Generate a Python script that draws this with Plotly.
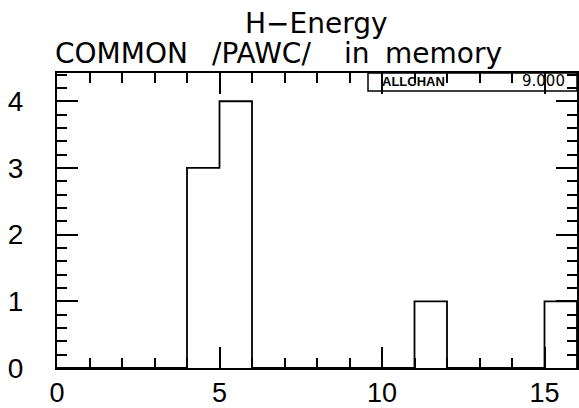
import plotly.graph_objects as go

# ---- data ----
bin_edges = list(range(0, 17))
counts = [0, 0, 0, 0, 3, 4, 0, 0, 0, 0, 0, 1, 0, 0, 0, 1]
x_tick_vals = [0, 5, 10, 15]
x_tick_text = ["0", "5", "10", "15"]
y_tick_vals = [0, 1, 2, 3, 4]
y_tick_text = ["0", "1", "2", "3", "4"]
title_text = "H\u2212Energy"
subtitle_words = ["COMMON", "/PAWC/", "in", "memory"]
stat_label = "ALLCHAN"
stat_value = "9.000"

# ---- layout geometry (pixels) ----
W, H = 579, 408
ML, MR, MT, MB = 57, 2, 73, 40
PW, PH = W - ML - MR, H - MT - MB


def px(x):
    return (x - ML) / PW


def py(y):
    return (H - MB - y) / PH


# step outline of histogram
xs = bin_edges[:-1] + [bin_edges[-1], bin_edges[-1]]
ys = counts + [counts[-1], 0]

fig = go.Figure()
fig.add_trace(go.Scatter(
    x=xs, y=ys, mode="lines", line=dict(shape="hv", color="black", width=1.8),
    hoverinfo="skip", showlegend=False,
))

axis_common = dict(
    showline=True, linecolor="black", linewidth=2, mirror="ticks",
    ticks="inside", tickcolor="black", tickwidth=1.5, ticklen=21,
    showgrid=False, zeroline=False, automargin=False,
)

fig.update_xaxes(
    range=[0, 16], tickvals=x_tick_vals, ticktext=x_tick_text,
    minor=dict(ticks="inside", dtick=1, ticklen=10, tickwidth=1.5,
               tickcolor="black", showgrid=False),
    ticklabelstandoff=0,
    tickfont=dict(family="Liberation Sans", size=27, color="black"),
    **axis_common,
)
fig.update_yaxes(
    range=[0, 4.424], tickvals=y_tick_vals, ticktext=y_tick_text,
    minor=dict(ticks="inside", dtick=0.2, ticklen=10, tickwidth=1.5,
               tickcolor="black", showgrid=False),
    ticklabelstandoff=26,
    tickfont=dict(family="Liberation Sans", size=28, color="black"),
    **axis_common,
)

annotations = [
    dict(text=title_text, x=px(316), y=py(23), xref="paper", yref="paper",
         xanchor="center", yanchor="middle", showarrow=False,
         font=dict(family="DejaVu Sans", size=28, color="black")),
]
word_centers = [121.7, 261, 356.5, 443.4]
for w, cx in zip(subtitle_words, word_centers):
    annotations.append(dict(
        text=w, x=px(cx), y=py(54), xref="paper", yref="paper",
        xanchor="center", yanchor="middle", showarrow=False,
        font=dict(family="DejaVu Sans", size=28, color="black")))
annotations.append(dict(
    text="<b>" + stat_label + "</b>", x=px(413.5), y=py(81), xref="paper", yref="paper",
    xanchor="center", yanchor="middle", showarrow=False,
    font=dict(family="Liberation Sans", size=13, color="black")))
annotations.append(dict(
    text=stat_value, x=px(567), y=py(81), xref="paper", yref="paper",
    xanchor="right", yanchor="middle", showarrow=False,
    font=dict(family="DejaVu Sans", size=15, color="black")))

fig.update_layout(
    width=W, height=H,
    margin=dict(l=ML, r=MR, t=MT, b=MB, pad=0, autoexpand=False),
    paper_bgcolor="white", plot_bgcolor="white",
    annotations=annotations,
    shapes=[dict(type="rect", xref="paper", yref="paper",
                 x0=px(368), x1=1, y0=py(91), y1=1,
                 line=dict(color="black", width=1.5))],
)

fig.write_html(
    "out.html",
    config={"displayModeBar": False},
    post_script="document.body.style.margin='0px';document.body.style.overflow='hidden';",
)
